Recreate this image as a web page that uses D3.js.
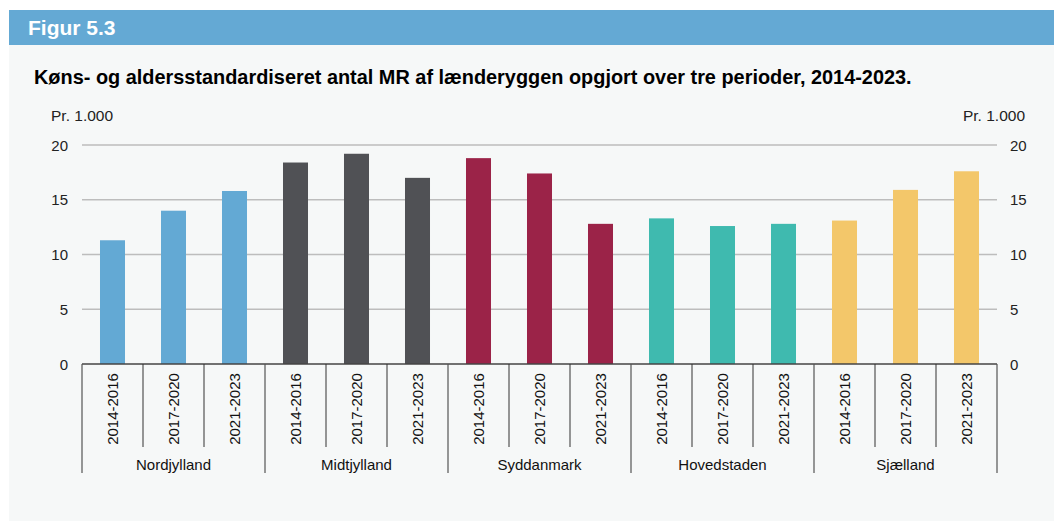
<!DOCTYPE html>
<html lang="da">
<head>
<meta charset="UTF-8">
<title>Figur 5.3</title>
<script src="https://cdnjs.cloudflare.com/ajax/libs/d3/7.8.5/d3.min.js"></script>
<style>
  body { margin: 0; background: #fff; font-family: "Liberation Sans", Arial, sans-serif; }
  svg text { font-family: "Liberation Sans", Arial, sans-serif; }
</style>
</head>
<body>
<svg id="chart" width="1054" height="521"></svg>
<script>
// data
const regions = ["Nordjylland", "Midtjylland", "Syddanmark", "Hovedstaden", "Sjælland"];
const periods = ["2014-2016", "2017-2020", "2021-2023"];
const regionColors = ["#63a9d4", "#505155", "#9b2348", "#3fbaaf", "#f3c76a"];
const values = [
  [11.3, 14.0, 15.8],   // Nordjylland
  [18.4, 19.2, 17.0],   // Midtjylland
  [18.8, 17.4, 12.8],   // Syddanmark
  [13.3, 12.6, 12.8],   // Hovedstaden
  [13.1, 15.9, 17.6]    // Sjælland
];
const yTicks = [0, 5, 10, 15, 20];

const svg = d3.select("#chart");

// panel + header
svg.append("rect").attr("x", 9).attr("y", 45).attr("width", 1045).attr("height", 476).attr("fill", "#f6f8f8");
svg.append("rect").attr("x", 9).attr("y", 10).attr("width", 1045).attr("height", 35).attr("fill", "#64a9d4");
svg.append("text").attr("x", 28).attr("y", 35).attr("fill", "#fff")
  .attr("font-size", 21).attr("font-weight", "bold").text("Figur 5.3");
svg.append("text").attr("x", 34).attr("y", 84).attr("fill", "#000")
  .attr("font-size", 19.9).attr("font-weight", "bold")
  .text("Køns- og aldersstandardiseret antal MR af lænderyggen opgjort over tre perioder, 2014-2023.");

const plotL = 82, plotR = 997, plotT = 145, plotB = 364;

// flat rows
const rows = [];
regions.forEach((r, i) => periods.forEach((p, j) => rows.push({ region: r, period: p, value: values[i][j], color: regionColors[i], key: r + "|" + p })));

const x = d3.scaleBand().domain(rows.map(d => d.key)).range([plotL, plotR]).paddingInner(0).paddingOuter(0);
const y = d3.scaleLinear().domain([0, 20]).range([plotB, plotT]);

// gridlines
svg.append("g").selectAll("line").data(yTicks.filter(t => t > 0)).enter().append("line")
  .attr("x1", plotL).attr("x2", plotR)
  .attr("y1", d => y(d)).attr("y2", d => y(d))
  .attr("stroke", "#bdbdbd").attr("stroke-width", 1.3);

// y labels, both sides
const yl = svg.append("g").attr("font-size", 15).attr("fill", "#222");
yl.selectAll("text.l").data(yTicks).enter().append("text")
  .attr("x", 68).attr("y", d => y(d) + 5.5).attr("text-anchor", "end").text(d => d);
yl.selectAll("text.r").data(yTicks).enter().append("text")
  .attr("x", 1010).attr("y", d => y(d) + 5.5).attr("text-anchor", "start").text(d => d);
svg.append("text").attr("x", 51).attr("y", 121).attr("font-size", 15.5).attr("fill", "#222").text("Pr. 1.000");
svg.append("text").attr("x", 1025).attr("y", 121).attr("font-size", 15.5).attr("fill", "#222")
  .attr("text-anchor", "end").text("Pr. 1.000");

// bars
const bw = x.bandwidth() * 0.41;
svg.append("g").selectAll("rect").data(rows).enter().append("rect")
  .attr("x", d => x(d.key) + (x.bandwidth() - bw) / 2)
  .attr("width", bw)
  .attr("y", d => y(d.value))
  .attr("height", d => y(0) - y(d.value))
  .attr("fill", d => d.color);

// category axis
const ax = svg.append("g");
ax.append("line").attr("x1", plotL).attr("x2", plotR).attr("y1", plotB).attr("y2", plotB)
  .attr("stroke", "#444").attr("stroke-width", 1.5);
// inner ticks
ax.selectAll("line.t").data(rows.filter((d, i) => i % 3 !== 0)).enter().append("line")
  .attr("x1", d => x(d.key)).attr("x2", d => x(d.key))
  .attr("y1", plotB).attr("y2", 447).attr("stroke", "#333").attr("stroke-width", 1);
// group separators
const groupEdges = d3.range(regions.length + 1).map(i => i < regions.length ? x(regions[i] + "|" + periods[0]) : plotR);
ax.selectAll("line.g").data(groupEdges).enter().append("line")
  .attr("x1", d => d).attr("x2", d => d)
  .attr("y1", plotB).attr("y2", 473).attr("stroke", "#555").attr("stroke-width", 1.2);
// period labels
ax.selectAll("text.p").data(rows).enter().append("text")
  .attr("transform", d => `translate(${x(d.key) + x.bandwidth() / 2 + 5.5},${409}) rotate(-90)`)
  .attr("text-anchor", "middle").attr("font-size", 15).attr("fill", "#111").text(d => d.period);
// region labels
ax.selectAll("text.r").data(regions).enter().append("text")
  .attr("x", (d, i) => (groupEdges[i] + groupEdges[i + 1]) / 2)
  .attr("y", 470).attr("text-anchor", "middle").attr("font-size", 15).attr("fill", "#111").text(d => d);
</script>
</body>
</html>
